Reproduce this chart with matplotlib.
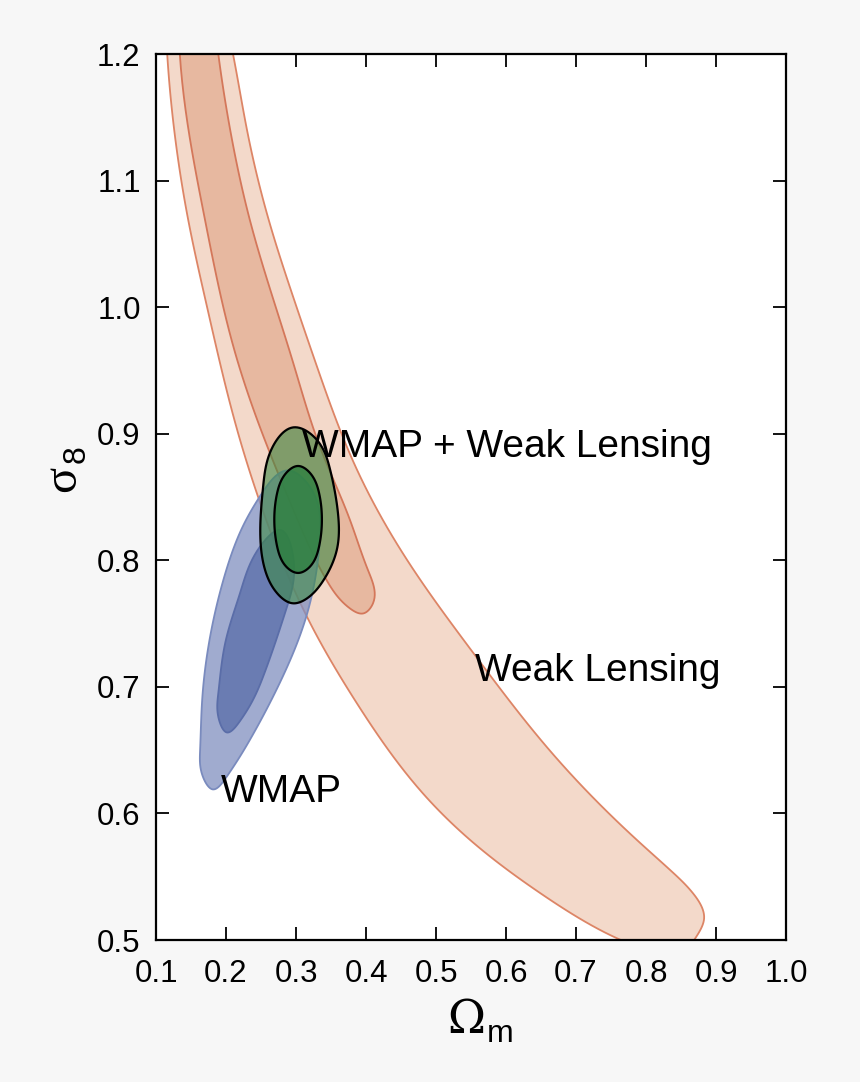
#!/usr/bin/env python
# encoding=utf-8

import numpy as np
import matplotlib
matplotlib.use('Agg')
import matplotlib.pyplot as plt
from matplotlib.patches import Polygon

plt.rcParams['font.family'] = ['Liberation Sans', 'DejaVu Sans']

# contours (omega_m, sigma_8), lensing runs past the frame
lensing_outer_x = [.155, .106, .110, .116, .126, .146, .173, .217, .249, .316, .387, .481, .553, .649, .760,
                   .820, .834, .849, .870, .883, .867, .839, .791, .659, .553, .459, .381, .330,
                   .296, .261, .230, .210, .196, .188]
lensing_outer_y = [1.34, 1.29, 1.243, 1.2, 1.14, 1.069, 1.0, .901, .845, .755, .687, .616, .577, .537, .501,
                   .481, .475, .483, .501, .517, .537, .553, .577, .652, .727, .800, .879, .953,
                   1.008, 1.069, 1.14, 1.2, 1.243, 1.29]
lensing_inner_x = [.155, .125, .129, .134, .170, .213, .259, .296, .344, .377, .396, .410,
                   .403, .377, .334, .296, .234, .206, .189, .180, .172]
lensing_inner_y = [1.34, 1.29, 1.243, 1.2, 1.069, .964, .890, .840, .784, .762, .758, .766,
                   .792, .832, .890, .956, 1.069, 1.14, 1.2, 1.243, 1.29]
wmap_outer_x = [.181, .201, .234, .281, .316, .334, .320, .289, .249, .220, .196, .174, .166, .163, .167]
wmap_outer_y = [.619, .629, .658, .708, .758, .815, .858, .871, .851, .822, .784, .729, .690, .650, .629]
wmap_inner_x = [.201, .220, .253, .287, .296, .277, .253, .220, .199, .189, .190]
wmap_inner_y = [.664, .673, .708, .763, .803, .824, .814, .774, .735, .695, .674]
both_outer_x = [.296, .330, .349, .360, .359, .339, .316, .296, .273, .256, .249, .253, .267]
both_outer_y = [.905, .895, .871, .837, .810, .784, .770, .766, .774, .792, .826, .858, .890]
both_inner_x = [.303, .320, .333, .337, .333, .320, .303, .286, .273, .269, .273, .286]
both_inner_y = [.8745, .869, .853, .832, .811, .795, .790, .795, .811, .832, .853, .869]

x_ticks = [.1, .2, .3, .4, .5, .6, .7, .8, .9, 1.0]
y_ticks = [.5, .6, .7, .8, .9, 1.0, 1.1, 1.2]


# periodic cubic spline through the read points, only to round the outline
def smooth(xs, ys, n=12):
    p = np.column_stack([xs, np.array(ys) * 1.8])  # roughly pixel aspect
    m = len(p)
    h = np.linalg.norm(np.roll(p, -1, axis=0) - p, axis=1)
    A = np.zeros((m, m))
    b = np.zeros((m, 2))
    for i in range(m):
        hp = h[i - 1]
        A[i, (i - 1) % m] = hp
        A[i, i] = 2 * (hp + h[i])
        A[i, (i + 1) % m] = h[i]
        b[i] = 6 * ((p[(i + 1) % m] - p[i]) / h[i] - (p[i] - p[i - 1]) / hp)
    c = np.linalg.solve(A, b)
    out = []
    for i in range(m):
        j = (i + 1) % m
        t = np.linspace(0, h[i], n, endpoint=False)[:, None]
        s = h[i] - t
        out.append((c[i] * s ** 3 + c[j] * t ** 3) / (6 * h[i])
                   + (p[j] / h[i] - c[j] * h[i] / 6) * t + (p[i] / h[i] - c[i] * h[i] / 6) * s)
    out = np.vstack(out)
    out[:, 1] /= 1.8
    return out


def add_contour(ax, xs, ys, face, edge, lw, zorder, alpha=None):
    fc = matplotlib.colors.to_rgba(face, alpha)
    ax.add_patch(Polygon(smooth(xs, ys), closed=True, facecolor=fc, edgecolor=edge,
                         linewidth=lw, zorder=zorder))


fig = plt.figure(figsize=(8.6, 10.82), dpi=100, facecolor='#F7F7F7')
ax = fig.add_axes([156 / 860, 1 - 940 / 1082, 630 / 860, 886 / 1082])
ax.set_xlim(.1, 1.0)
ax.set_ylim(.5, 1.2)

add_contour(ax, lensing_outer_x, lensing_outer_y, '#F3D9CA', '#DD8566', 1.3, 2)
add_contour(ax, lensing_inner_x, lensing_inner_y, '#E7B8A0', '#D4775A', 1.3, 3)
add_contour(ax, wmap_outer_x, wmap_outer_y, '#808FC0', '#7A8BBE', 1.3, 4, .75)
add_contour(ax, wmap_inner_x, wmap_inner_y, '#596DA9', '#5A6DA8', 1.3, 5, .75)
add_contour(ax, both_outer_x, both_outer_y, '#3C8A46', 'black', 1.6, 6, .6)
add_contour(ax, both_inner_x, both_inner_y, '#2E8040', 'black', 1.6, 7, .8)

ax.text(.308, .8816, 'WMAP + Weak Lensing', fontsize=28, va='baseline', zorder=8)
ax.text(.555, .7046, 'Weak Lensing', fontsize=28, va='baseline', zorder=8)
ax.text(.193, .609, 'WMAP', fontsize=28, va='baseline', zorder=8)

ax.set_xticks(x_ticks)
ax.set_yticks(y_ticks)
ax.set_xticklabels(['%.1f' % v for v in x_ticks])
ax.set_yticklabels(['%.1f' % v for v in y_ticks])
ax.tick_params(direction='in', length=9.5, width=1.3, top=True, right=True, labelsize=22.5)
ax.tick_params(axis='x', pad=14)
ax.tick_params(axis='y', pad=11)
for spine in ax.spines.values():
    spine.set_linewidth(1.6)
    spine.set_zorder(10)

fig.text(447 / 860, 1 - 1033 / 1082, '\u03a9', family=['DejaVu Serif'], fontsize=33)
fig.text(487 / 860, 1 - 1042 / 1082, 'm', fontsize=23)
fig.text(85 / 860, 1 - 492 / 1082, '\u03c3', family=['Liberation Serif', 'DejaVu Serif'], fontsize=35,
         rotation=90, ha='left', va='bottom', rotation_mode='anchor')
fig.text(92 / 860, 1 - 463 / 1082, '8', fontsize=23, rotation=90, ha='left', va='bottom',
         rotation_mode='anchor')

fig.savefig('out.png', dpi=100, facecolor=fig.get_facecolor())
